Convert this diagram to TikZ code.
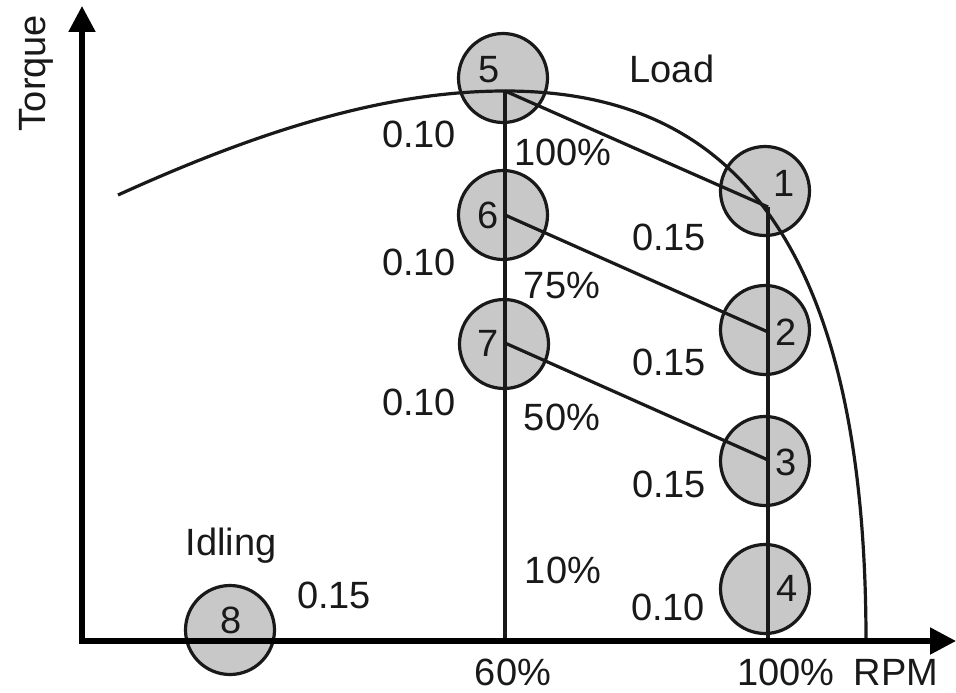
\documentclass[tikz,border=0pt]{standalone}
\usepackage{fontspec}
\setmainfont{Liberation Sans}
\usetikzlibrary{arrows.meta}
\definecolor{circfill}{RGB}{200,200,200}
\definecolor{ink}{RGB}{25,25,25}
\begin{document}
\begin{tikzpicture}[x=1pt,y=-1pt,
  op/.style={circle,draw=ink,fill=circfill,line width=3.2pt,minimum size=89pt,inner sep=0pt},
  lbl/.style={anchor=base,inner sep=0pt,text=ink,font=\fontsize{38}{40}\selectfont},
  conn/.style={draw=ink,line width=3.2pt},
  axis/.style={draw=black,line width=5.2pt,-{Triangle[length=26pt,width=26pt]}}]
\useasboundingbox (0,0) rectangle (956,693);
% operating point circles
\node[op] (c5) at (503,78) {};
\node[op] (c6) at (503,215) {};
\node[op] (c7) at (504,344) {};
\node[op] (c1) at (765,191) {};
\node[op] (c2) at (765,330) {};
\node[op] (c3) at (765,461) {};
\node[op] (c4) at (765,589) {};
\node[op] (c8) at (230,630) {};
% connection points
\coordinate (p5) at (505,91);
\coordinate (p6) at (505,215);
\coordinate (p7) at (505,343);
\coordinate (p1) at (768,207);
\coordinate (p2) at (768,332);
\coordinate (p3) at (768,460);
\coordinate (a60) at (505,641);
\coordinate (a100) at (768,641);
\coordinate (o) at (82,641);
\coordinate (ytip) at (82,6);
\coordinate (xtip) at (956,641);
\coordinate (cs) at (118,195);
\coordinate (ce) at (866,641);
% lines
\draw[conn] (p5) -- (a60);
\draw[conn] (p1) -- (a100);
\draw[conn] (p5) -- (p1);
\draw[conn] (p6) -- (p2);
\draw[conn] (p7) -- (p3);
\draw[conn] (cs) .. controls (250,135) and (380,91) .. (p5)
  .. controls (700,91) and (866,200) .. (ce);
% axes
\draw[axis] ([yshift=2.6pt]o) -- (ytip);
\draw[axis] ([xshift=-2.6pt]o) -- (xtip);
% numbers in circles
\node[lbl] (n5) at (489,83) {5};
\node[lbl] (n6) at (488,228) {6};
\node[lbl] (n7) at (488,356) {7};
\node[lbl] (n1) at (784,196) {1};
\node[lbl] (n2) at (786,345) {2};
\node[lbl] (n3) at (786,475) {3};
\node[lbl] (n4) at (787,601) {4};
\node[lbl] (n8) at (231,633) {8};
% labels
\node[lbl,rotate=90] (torque) at (45,73) {Torque};
\node[lbl] (load) at (672,83) {Load};
\node[lbl] (idle) at (231,555) {Idling};
\node[lbl] (w5) at (419,147) {0.10};
\node[lbl] (w6) at (419,275) {0.10};
\node[lbl] (w7) at (419,415) {0.10};
\node[lbl] (w1) at (669,250) {0.15};
\node[lbl] (w2) at (669,375) {0.15};
\node[lbl] (w3) at (669,497) {0.15};
\node[lbl] (w4) at (668,620) {0.10};
\node[lbl] (w8) at (334,608) {0.15};
\node[lbl] (l100) at (563,165) {100\%};
\node[lbl] (l75) at (562,298) {75\%};
\node[lbl] (l50) at (562,430) {50\%};
\node[lbl] (l10) at (563,583) {10\%};
\node[lbl] (x60) at (513,685) {60\%};
\node[lbl] (x100) at (786,685) {100\%};
\node[lbl] (rpm) at (896,685) {RPM};
\end{tikzpicture}
\end{document}
